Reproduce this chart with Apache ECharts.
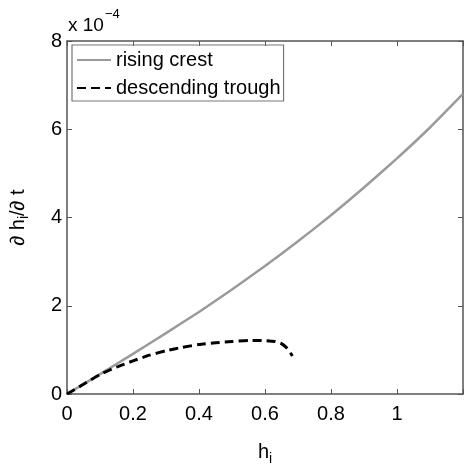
<!DOCTYPE html>
<html>
<head>
<meta charset="utf-8">
<script src="https://cdn.jsdelivr.net/npm/echarts@6/dist/echarts.min.js"></script>
<style>html,body{margin:0;padding:0;background:#fff;}#c{width:466px;height:471px;}</style>
</head>
<body>
<div id="c"></div>
<script>
var xTicks = ['0', '0.2', '0.4', '0.6', '0.8', '1'];
var yTicks = ['0', '2', '4', '6', '8'];
var risingX = [0, 0.1, 0.2, 0.3, 0.4, 0.5, 0.6, 0.7, 0.8, 0.9, 1.0, 1.1, 1.2];
var risingY = [0, 0.45, 0.91, 1.38, 1.86, 2.37, 2.9, 3.46, 4.05, 4.68, 5.34, 6.04, 6.8];
var troughX = [0, 0.05, 0.1, 0.15, 0.2, 0.25, 0.3, 0.35, 0.4, 0.45, 0.5, 0.55, 0.6, 0.63, 0.65, 0.665, 0.675, 0.683];
var troughY = [0, 0.22, 0.44, 0.61, 0.75, 0.88, 0.98, 1.06, 1.12, 1.16, 1.19, 1.21, 1.21, 1.19, 1.14, 1.05, 0.96, 0.86];

function zip(xs, ys) { return xs.map(function (x, i) { return [x, ys[i]]; }); }

var font = 'Liberation Sans, Arial, Helvetica, sans-serif';
var axisColor = '#555';
var chart = echarts.init(document.getElementById('c'));
chart.setOption({
  animation: false,
  backgroundColor: '#fff',
  grid: { left: 67, top: 41, width: 401, height: 363 },
  legend: {
    orient: 'vertical', left: 72, top: 45,
    padding: [5, 3, 3, 4],
    itemWidth: 34, itemHeight: 14, itemGap: 8,
    borderColor: '#777', borderWidth: 1.2, borderRadius: 0,
    itemStyle: { opacity: 0 },
    textStyle: { fontFamily: font, fontSize: 20, color: '#000' },
    data: ['rising crest', 'descending trough']
  },
  xAxis: [{
    type: 'value', min: 0, max: 1.2, interval: 0.2, position: 'bottom',
    axisLine: { show: true, onZero: false, lineStyle: { color: axisColor, width: 1.5 } },
    axisTick: { show: true, inside: true, length: 5, lineStyle: { color: axisColor } },
    splitLine: { show: false },
    axisLabel: {
      fontFamily: font, fontSize: 20, color: '#000', margin: 10,
      formatter: function (v) { var i = Math.round(v / 0.2); return xTicks[i] !== undefined && Math.abs(v - i * 0.2) < 1e-6 ? xTicks[i] : ''; }
    },
    name: '{b|h}{s|i}', nameLocation: 'middle', nameGap: 44,
    nameTextStyle: { rich: { b: { fontFamily: font, fontSize: 20, color: '#000' }, s: { fontFamily: font, fontSize: 14, color: '#000', padding: [14, 0, 0, 0] } } }
  }, {
    type: 'value', min: 0, max: 1.2, interval: 0.2, position: 'top',
    axisLine: { show: true, onZero: false, lineStyle: { color: axisColor, width: 1.5 } },
    axisTick: { show: true, inside: true, length: 5, lineStyle: { color: axisColor } },
    splitLine: { show: false }, axisLabel: { show: false }
  }],
  yAxis: [{
    type: 'value', min: 0, max: 8, interval: 2, position: 'left',
    axisLine: { show: true, onZero: false, lineStyle: { color: axisColor, width: 1.5 } },
    axisTick: { show: true, inside: true, length: 5, lineStyle: { color: axisColor } },
    splitLine: { show: false },
    axisLabel: {
      fontFamily: font, fontSize: 20, color: '#000', margin: 5,
      formatter: function (v) { return yTicks[Math.round(v / 2)]; }
    },
    name: '{a|∂ h}{s|i}{a|/∂ t}', nameLocation: 'middle', nameGap: 36, nameRotate: 90,
    nameTextStyle: { rich: { a: { fontFamily: font, fontSize: 20, color: '#000' }, s: { fontFamily: font, fontSize: 14, color: '#000', padding: [12, 0, 0, 0] } } }
  }, {
    type: 'value', min: 0, max: 8, interval: 2, position: 'right',
    axisLine: { show: true, onZero: false, lineStyle: { color: axisColor, width: 1.5 } },
    axisTick: { show: true, inside: true, length: 5, lineStyle: { color: axisColor } },
    splitLine: { show: false }, axisLabel: { show: false }
  }],
  graphic: [{
    type: 'text', left: 68, top: 8,
    style: {
      text: '{a|x 10}{s|−4}',
      rich: { a: { fontFamily: font, fontSize: 19, fill: '#000', padding: [10, 0, 0, 0] }, s: { fontFamily: font, fontSize: 13, fill: '#000', padding: [0, 0, 12, 1] } }
    }
  }],
  series: [{
    name: 'rising crest', type: 'line', data: zip(risingX, risingY),
    showSymbol: false, symbol: 'none', smooth: 0.15, clip: true,
    lineStyle: { color: '#9a9a9a', width: 2.5 }, itemStyle: { color: '#9a9a9a' }
  }, {
    name: 'descending trough', type: 'line', data: zip(troughX, troughY),
    showSymbol: false, symbol: 'none', smooth: 0.15, clip: true,
    lineStyle: { color: '#000', width: 3, type: [9, 5] }, itemStyle: { color: '#000' }
  }]
});
</script>
</body>
</html>
